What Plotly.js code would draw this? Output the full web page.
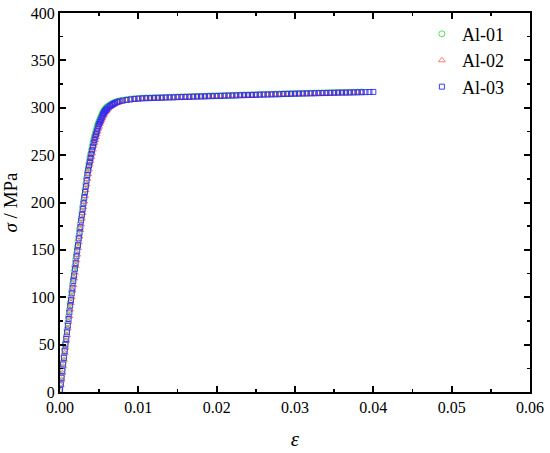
<!DOCTYPE html>
<html>
<head>
<meta charset="utf-8">
<script src="https://cdn.plot.ly/plotly-3.0.1.min.js"></script>
<style>html,body{margin:0;padding:0;background:#fff;}#chart{width:550px;height:453px;}</style>
</head>
<body>
<div id="chart"></div>
<script>
// Shared strain values (elastic, knee, plateau)
const strain = [
  0.0000,0.0001,0.0002,0.0003,0.0004,0.0005,0.0006,0.0007,0.0008,0.0009,
  0.0010,0.0011,0.0012,0.0013,0.0014,0.0015,0.0016,0.0017,0.0018,0.0019,
  0.0020,0.0021,0.0022,0.0023,0.0024,0.0025,0.0026,0.0027,0.0028,0.0029,
  0.0030,0.0031,0.0032,0.0033,0.0034,0.0035,0.0036,0.0037,0.0038,0.0039,
  0.0040,0.0041,0.0042,0.0043,0.0044,0.0045,0.0046,0.0047,0.0048,0.0049,
  0.0050,0.0051,0.0052,0.0053,0.0054,0.0055,0.0056,0.0057,0.0058,0.0059,
  0.0060,
  0.0062,0.0064,0.0066,0.0068,0.0070,0.0073,0.0076,0.0080,0.0085,0.0090,0.0095,0.0100,
  0.0105,0.0110,0.0115,0.0120,0.0125,0.0130,0.0135,0.0140,0.0145,0.0150,
  0.0155,0.0160,0.0165,0.0170,0.0175,0.0180,0.0185,0.0190,0.0195,0.0200,
  0.0205,0.0210,0.0215,0.0220,0.0225,0.0230,0.0235,0.0240,0.0245,0.0250,
  0.0255,0.0260,0.0265,0.0270,0.0275,0.0280,0.0285,0.0290,0.0295,0.0300,
  0.0305,0.0310,0.0315,0.0320,0.0325,0.0330,0.0335,0.0340,0.0345,0.0350,
  0.0355,0.0360,0.0365,0.0370,0.0375,0.0380,0.0385
];

const stress01 = [
  3,10,17,24,31,38,45,52,59,66,
  73,80,87,94,100,107,114,120,127,133,
  140,146,153,159,165,172,178,184,190,196,
  202,208,214,220,226,232,237,242,247,251,
  255,259,263,267,270,273,276,279,282,284,
  286,288,290,292,294,295.5,297,298,299,300,
  301,
  302,303.2,304.2,305,305.8,306.7,307.4,308,308.7,309.2,309.6,309.9,
  310.2,310.4,310.5,310.7,310.8,310.9,311.1,311.2,311.3,311.5,
  311.6,311.7,311.8,312.0,312.1,312.2,312.3,312.5,312.6,312.7,
  312.8,313.0,313.1,313.2,313.3,313.5,313.6,313.7,313.8,313.9,
  314.1,314.2,314.3,314.4,314.5,314.6,314.8,314.9,315.0,315.1,
  315.2,315.3,315.4,315.5,315.6,315.7,315.8,315.9,316.0,316.1,
  316.2,316.3,316.3,316.4,316.5,316.6,316.7
];

const stress02 = [
  1,7,13,20,27,34,41,47,54,60,
  67,74,80,87,94,100,107,113,120,126,
  133,139,145,152,158,164,171,177,183,189,
  195,201,207,213,219,225,230,235,240,244,
  248,252,256,260,263,266,269,272,275,278,
  280,283,285,287,289,291,292.5,294,295.5,296.5,
  297.5,
  299.2,300.8,302,303,304,305.2,306.1,307,307.8,308.4,308.9,309.3,
  309.6,309.8,309.9,310.1,310.2,310.3,310.5,310.6,310.7,310.9,
  311.0,311.1,311.2,311.4,311.5,311.6,311.7,311.9,312.0,312.1,
  312.2,312.4,312.5,312.6,312.7,312.9,313.0,313.1,313.2,313.3,
  313.5,313.6,313.7,313.8,313.9,314.0,314.2,314.3,314.4,314.5,
  314.6,314.7,314.8,314.9,315.0,315.1,315.2,315.3,315.4,315.5,
  315.6,315.7,315.7,315.8,315.9,316.0,316.1
];

const stress03 = [
  2,8,15,22,29,36,43,50,56,63,
  70,77,84,91,97,104,110,117,123,130,
  136,143,149,155,162,168,174,181,187,193,
  199,205,211,217,223,229,234,239,243,247,
  251,255,259,263,266,269,272,275,278,281,
  283,285,287,289,291,293,294.5,296,297,298,
  299,
  300.5,302,303,304,305,306,306.8,307.5,308.2,308.8,309.3,309.6,
  309.9,310.1,310.2,310.4,310.5,310.6,310.8,310.9,311.0,311.2,
  311.3,311.4,311.5,311.7,311.8,311.9,312.0,312.2,312.3,312.4,
  312.5,312.7,312.8,312.9,313.0,313.2,313.3,313.4,313.5,313.6,
  313.8,313.9,314.0,314.1,314.2,314.3,314.5,314.6,314.7,314.8,
  314.9,315.0,315.1,315.2,315.3,315.4,315.5,315.6,315.7,315.8,
  315.9,316.0,316.0,316.1,316.2,316.3,316.4
];
// Al-03 runs a little further
const strain03Tail = [0.0390,0.0395,0.0400];
const stress03Tail = [316.5,316.6,316.7];

const seriesNames = ['Al-01','Al-02','Al-03'];
const xTickVals = [0,0.01,0.02,0.03,0.04,0.05,0.06];
const xTickText = ['0.00','0.01','0.02','0.03','0.04','0.05','0.06'];

const serif = "'Liberation Serif'";

const traces = [
  {x: strain, y: stress01, name: seriesNames[0], type: 'scatter', mode: 'markers',
   marker: {symbol: 'circle-open', size: 6, color: 'rgb(50,215,50)', line: {width: 0.8}}},
  {x: strain, y: stress02, name: seriesNames[1], type: 'scatter', mode: 'markers',
   marker: {symbol: 'triangle-up-open', size: 6, color: 'rgb(255,90,90)', line: {width: 0.8}}},
  {x: strain.concat(strain03Tail), y: stress03.concat(stress03Tail), name: seriesNames[2], type: 'scatter', mode: 'markers',
   marker: {symbol: 'square-open', size: 5, color: 'rgb(40,40,255)', line: {width: 0.9}}}
];

const axisCommon = {
  showgrid: false, zeroline: false, showline: true, linecolor: '#000', linewidth: 2,
  mirror: 'ticks', ticks: 'inside', ticklen: 6, tickwidth: 2, tickcolor: '#000',
  tickfont: {family: serif, size: 16, color: '#000'}
};

const layout = {
  width: 550, height: 453,
  margin: {l: 60, r: 20, t: 13, b: 61},
  paper_bgcolor: '#fff', plot_bgcolor: '#fff',
  showlegend: true,
  legend: {x: 0.77, y: 0.993, xanchor: 'left', yanchor: 'top', bgcolor: 'rgba(0,0,0,0)',
           tracegroupgap: 0, font: {family: serif, size: 18, color: '#000'}},
  xaxis: Object.assign({}, axisCommon, {
    range: [0, 0.06], tickvals: xTickVals, ticktext: xTickText,
    minor: {dtick: 0.005, ticks: 'inside', ticklen: 3, tickwidth: 1.5, tickcolor: '#000'},
    title: {text: '<i>ε</i>', font: {family: serif, size: 21, color: '#000'}, standoff: 16}
  }),
  yaxis: Object.assign({}, axisCommon, {
    range: [0, 400], dtick: 50, tick0: 0,
    minor: {dtick: 25, ticks: 'inside', ticklen: 3, tickwidth: 1.5, tickcolor: '#000'},
    title: {text: '<i>σ</i> / MPa', font: {family: serif, size: 19, color: '#000'}, standoff: 10}
  })
};

Plotly.newPlot('chart', traces, layout, {displayModeBar: false, staticPlot: true});
</script>
</body>
</html>
